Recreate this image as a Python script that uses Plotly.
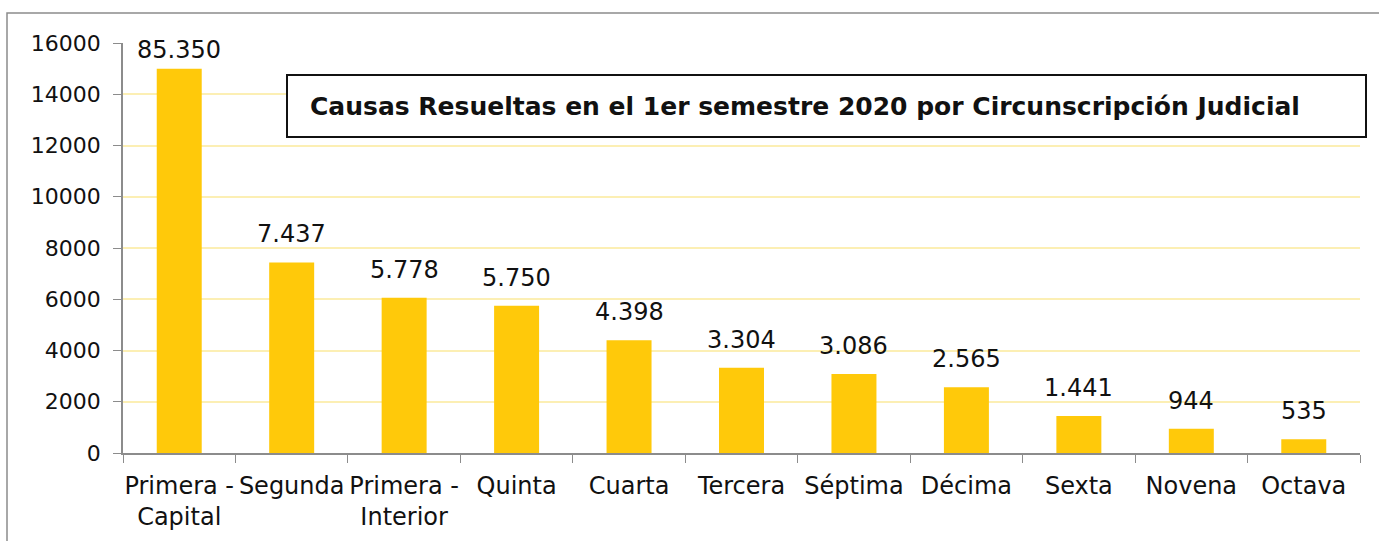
import plotly.graph_objects as go

categories = ["Primera -<br>Capital", "Segunda", "Primera -<br>Interior", "Quinta", "Cuarta",
              "Tercera", "Séptima", "Décima", "Sexta", "Novena", "Octava"]
bar_values = [15000, 7437, 6060, 5750, 4398, 3330, 3086, 2565, 1441, 944, 535]
value_labels = ["85.350", "7.437", "5.778", "5.750", "4.398", "3.304", "3.086", "2.565", "1.441", "944", "535"]
y_ticks = [0, 2000, 4000, 6000, 8000, 10000, 12000, 14000, 16000]
title_text = "Causas Resueltas en el 1er semestre 2020 por Circunscripción Judicial"

W, H = 1379, 541
L, R, T, B = 123, 19, 43, 88
pw, ph = W - L - R, H - T - B
Y_MAX = 16000

def px_x(p):
    return (p - L) / pw

def px_y(p):
    return (H - B - p) / ph

FONT = "DejaVu Sans"

fig = go.Figure(go.Bar(
    x=categories, y=bar_values,
    marker=dict(color="#FFC90A", line=dict(width=0)),
    width=0.4, cliponaxis=False, hoverinfo="x+y",
))

# data labels above each bar
for cat, val, lab in zip(categories, bar_values, value_labels):
    room = (Y_MAX - val) / Y_MAX * ph  # pixels between bar top and plot top
    shift = 12 if room > 40 else 3
    fig.add_annotation(x=cat, y=val, text=lab, showarrow=False, xref="x", yref="y",
                       xanchor="center", yanchor="bottom", yshift=shift,
                       font=dict(family=FONT, size=24, color="#111111"))

fig.update_layout(
    width=W, height=H, margin=dict(l=L, r=R, t=T, b=B, autoexpand=False),
    paper_bgcolor="white", plot_bgcolor="white", showlegend=False,
    font=dict(family=FONT, size=22, color="#111111"),
)
fig.update_xaxes(
    type="category", showline=True, linecolor="#8C8C8C", linewidth=1.5,
    ticks="outside", tickson="boundaries", ticklen=8, tickcolor="#8C8C8C",
    tickfont=dict(family=FONT, size=24, color="#111111"), showgrid=False,
    ticklabelstandoff=10, tickangle=0, automargin=False,
)
fig.update_yaxes(
    range=[0, Y_MAX], tickvals=y_ticks, ticktext=[str(v) for v in y_ticks],
    showline=True, linecolor="#8C8C8C", linewidth=1.5,
    ticks="outside", ticklen=8, tickcolor="#8C8C8C",
    showgrid=True, gridcolor="#FCEFB4", gridwidth=1.5, zeroline=False,
    tickfont=dict(family=FONT, size=22, color="#111111"),
    ticklabelstandoff=8, automargin=False,
)

# outer frame
fig.add_shape(type="rect", xref="paper", yref="paper",
              x0=px_x(7), x1=px_x(1390), y0=px_y(560), y1=px_y(13),
              line=dict(color="#8C8C8C", width=1.5), fillcolor="rgba(0,0,0,0)", layer="below")

# title box
fig.add_shape(type="rect", xref="paper", yref="paper",
              x0=px_x(287), x1=px_x(1366), y0=px_y(137), y1=px_y(75),
              line=dict(color="#111111", width=2), fillcolor="white", layer="above")
fig.add_annotation(text="<b>" + title_text + "</b>", xref="paper", yref="paper",
                   x=px_x(805), y=px_y(106), showarrow=False, xanchor="center", yanchor="middle",
                   font=dict(family=FONT, size=25, color="#111111"))

fig.write_html("out.html", config={"displayModeBar": False},
               post_script="document.body.style.margin='0px';")
